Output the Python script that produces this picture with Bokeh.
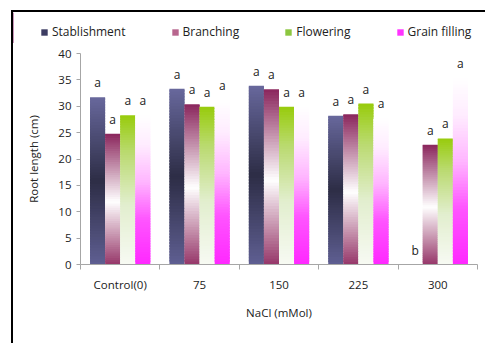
import numpy as np
from bokeh.plotting import figure
from bokeh.layouts import column
from bokeh.models import ColumnDataSource, FixedTicker, Legend, LegendItem, Range1d
from bokeh.core.properties import value
from bokeh.embed import file_html
from bokeh.resources import INLINE

# Root length (cm) at each growth stage for increasing NaCl levels
categories = ["Control(0)", "75", "150", "225", "300"]
series = ["Stablishment", "Branching", "Flowering", "Grain filling"]
stablishment = [31.7, 33.3, 33.9, 28.2, 0.0]
branching = [24.8, 30.4, 33.2, 28.5, 22.7]
flowering = [28.3, 29.9, 29.9, 30.5, 23.9]
grain_filling = [28.3, 31.2, 29.9, 27.7, 35.3]
letters_stablishment = ["a", "a", "a", "a", "b"]
letters_branching = ["a", "a", "a", "a", "a"]
letters_flowering = ["a", "a", "a", "a", "a"]
letters_grain_filling = ["a", "a", "a", "a", "a"]
y_ticks = [0, 5, 10, 15, 20, 25, 30, 35, 40]

values = [stablishment, branching, flowering, grain_filling]
letters = [letters_stablishment, letters_branching, letters_flowering, letters_grain_filling]

FONT = "Open Sans"
TEXT = "#222222"

# vertical colour gradients (fraction of bar height from bottom, rgb)
gradients = [
    [(0.0, (95, 95, 146)), (0.5, (45, 45, 70)), (1.0, (104, 104, 156))],
    [(0.0, (150, 55, 105)), (0.48, (255, 255, 255)), (1.0, (138, 38, 92))],
    [(0.0, (247, 250, 243)), (0.4, (226, 238, 206)), (0.75, (186, 218, 112)), (1.0, (152, 204, 12))],
    [(0.0, (255, 40, 255)), (0.3, (255, 85, 255)), (0.55, (255, 180, 255)), (0.8, (255, 236, 255)), (1.0, (255, 255, 255))],
]
legend_colors = ["#3c3c62", "#b8668e", "#8cc63f", "#ff33ff"]
offsets = [-0.285, -0.095, 0.095, 0.285]
bar_w = 0.19
N_SEG = 60
W = 472


def grad_color(stops, f):
    for (f0, c0), (f1, c1) in zip(stops[:-1], stops[1:]):
        if f <= f1:
            t = (f - f0) / (f1 - f0)
            c = [round(a + (b - a) * t) for a, b in zip(c0, c1)]
            return "#%02x%02x%02x" % tuple(c)
    return "#%02x%02x%02x" % stops[-1][1]


# each bar is a stack of thin slices, each slice overlapping the next
seg = dict(x=[], bottom=[], top=[], color=[])
lab = dict(x=[], y=[], text=[])
for s, vals in enumerate(values):
    for i, v in enumerate(vals):
        xc = i + 0.5 + offsets[s]
        for k in range(N_SEG):
            seg["x"].append(xc)
            seg["bottom"].append(v * k / N_SEG)
            top = v * (k + 1) / N_SEG
            if k < N_SEG - 1:
                top += 0.7 * v / N_SEG
            seg["top"].append(top)
            seg["color"].append(grad_color(gradients[s], (k + 0.5) / N_SEG))
        lab["x"].append(xc)
        lab["y"].append(v)
        lab["text"].append(letters[s][i])

# legend strip
lg = figure(width=W, height=31, output_backend="svg", toolbar_location=None,
            x_range=Range1d(0, 1), y_range=Range1d(0, 1),
            min_border_left=0, min_border_right=0, min_border_top=0, min_border_bottom=0)
lg.frame_align = False
lg.axis.visible = False
lg.grid.visible = False
lg.outline_line_color = None
items = []
for name, col in zip(series, legend_colors):
    # placeholder bar kept outside the visible range; only its swatch is shown
    r = lg.vbar(x=[-10], top=[1], width=0.1, fill_color=col, line_color=None)
    items.append(LegendItem(label=name, renderers=[r]))
legend = Legend(items=items, orientation="horizontal", location=(27, 3),
                glyph_width=8, glyph_height=8, label_standoff=4, spacing=45,
                padding=0, margin=0, label_height=12,
                label_text_font=FONT, label_text_font_size="12px", label_text_color=TEXT,
                border_line_color=None, background_fill_alpha=0)
lg.add_layout(legend, "center")

# main chart
p = figure(width=W, height=300, output_backend="svg", toolbar_location=None,
           x_range=Range1d(0, 5), y_range=Range1d(0, 40),
           min_border_left=67, min_border_right=8, min_border_top=10, min_border_bottom=79)
p.frame_align = False
p.outline_line_color = None
p.xgrid.visible = False
p.ygrid.visible = False

p.vbar(x="x", bottom="bottom", top="top", width=bar_w, fill_color="color",
       line_color=None, source=ColumnDataSource(seg))
p.text(x="x", y="y", text="text", source=ColumnDataSource(lab),
       text_font=value(FONT), text_font_size="12px", text_color=TEXT,
       text_align="center", text_baseline="bottom", y_offset=-6)

AX = "#a6a6a6"
p.xaxis.ticker = FixedTicker(ticks=[0.5, 1.5, 2.5, 3.5, 4.5], minor_ticks=[0, 1, 2, 3, 4, 5])
p.xaxis.major_label_overrides = {i + 0.5: c for i, c in enumerate(categories)}
p.xaxis.major_tick_out = 0
p.xaxis.major_tick_in = 0
p.xaxis.minor_tick_out = 5
p.xaxis.minor_tick_in = 0
p.xaxis.axis_line_color = AX
p.xaxis.minor_tick_line_color = AX
p.xaxis.major_label_standoff = 7
p.xaxis.axis_label = "NaCl (mMol)"
p.xaxis.axis_label_standoff = 10

p.yaxis.ticker = FixedTicker(ticks=y_ticks)
p.yaxis.minor_tick_line_color = None
p.yaxis.major_tick_out = 4
p.yaxis.major_tick_in = 0
p.yaxis.axis_line_color = AX
p.yaxis.major_tick_line_color = AX
p.yaxis.major_label_standoff = 5
p.yaxis.axis_label = "Root length (cm)"
p.yaxis.axis_label_standoff = 14

for ax in (p.xaxis, p.yaxis):
    ax.major_label_text_font = FONT
    ax.major_label_text_font_size = "11.5px"
    ax.major_label_text_color = TEXT
    ax.axis_label_text_font = FONT
    ax.axis_label_text_font_size = "11.5px"
    ax.axis_label_text_font_style = "normal"
    ax.axis_label_text_color = TEXT

layout = column(lg, p, spacing=0)
layout.styles = {"margin-left": "11px", "margin-top": "10px",
                 "border-left": "2px solid black", "border-top": "2px solid black"}

open("out.html", "w").write(file_html(layout, INLINE))
